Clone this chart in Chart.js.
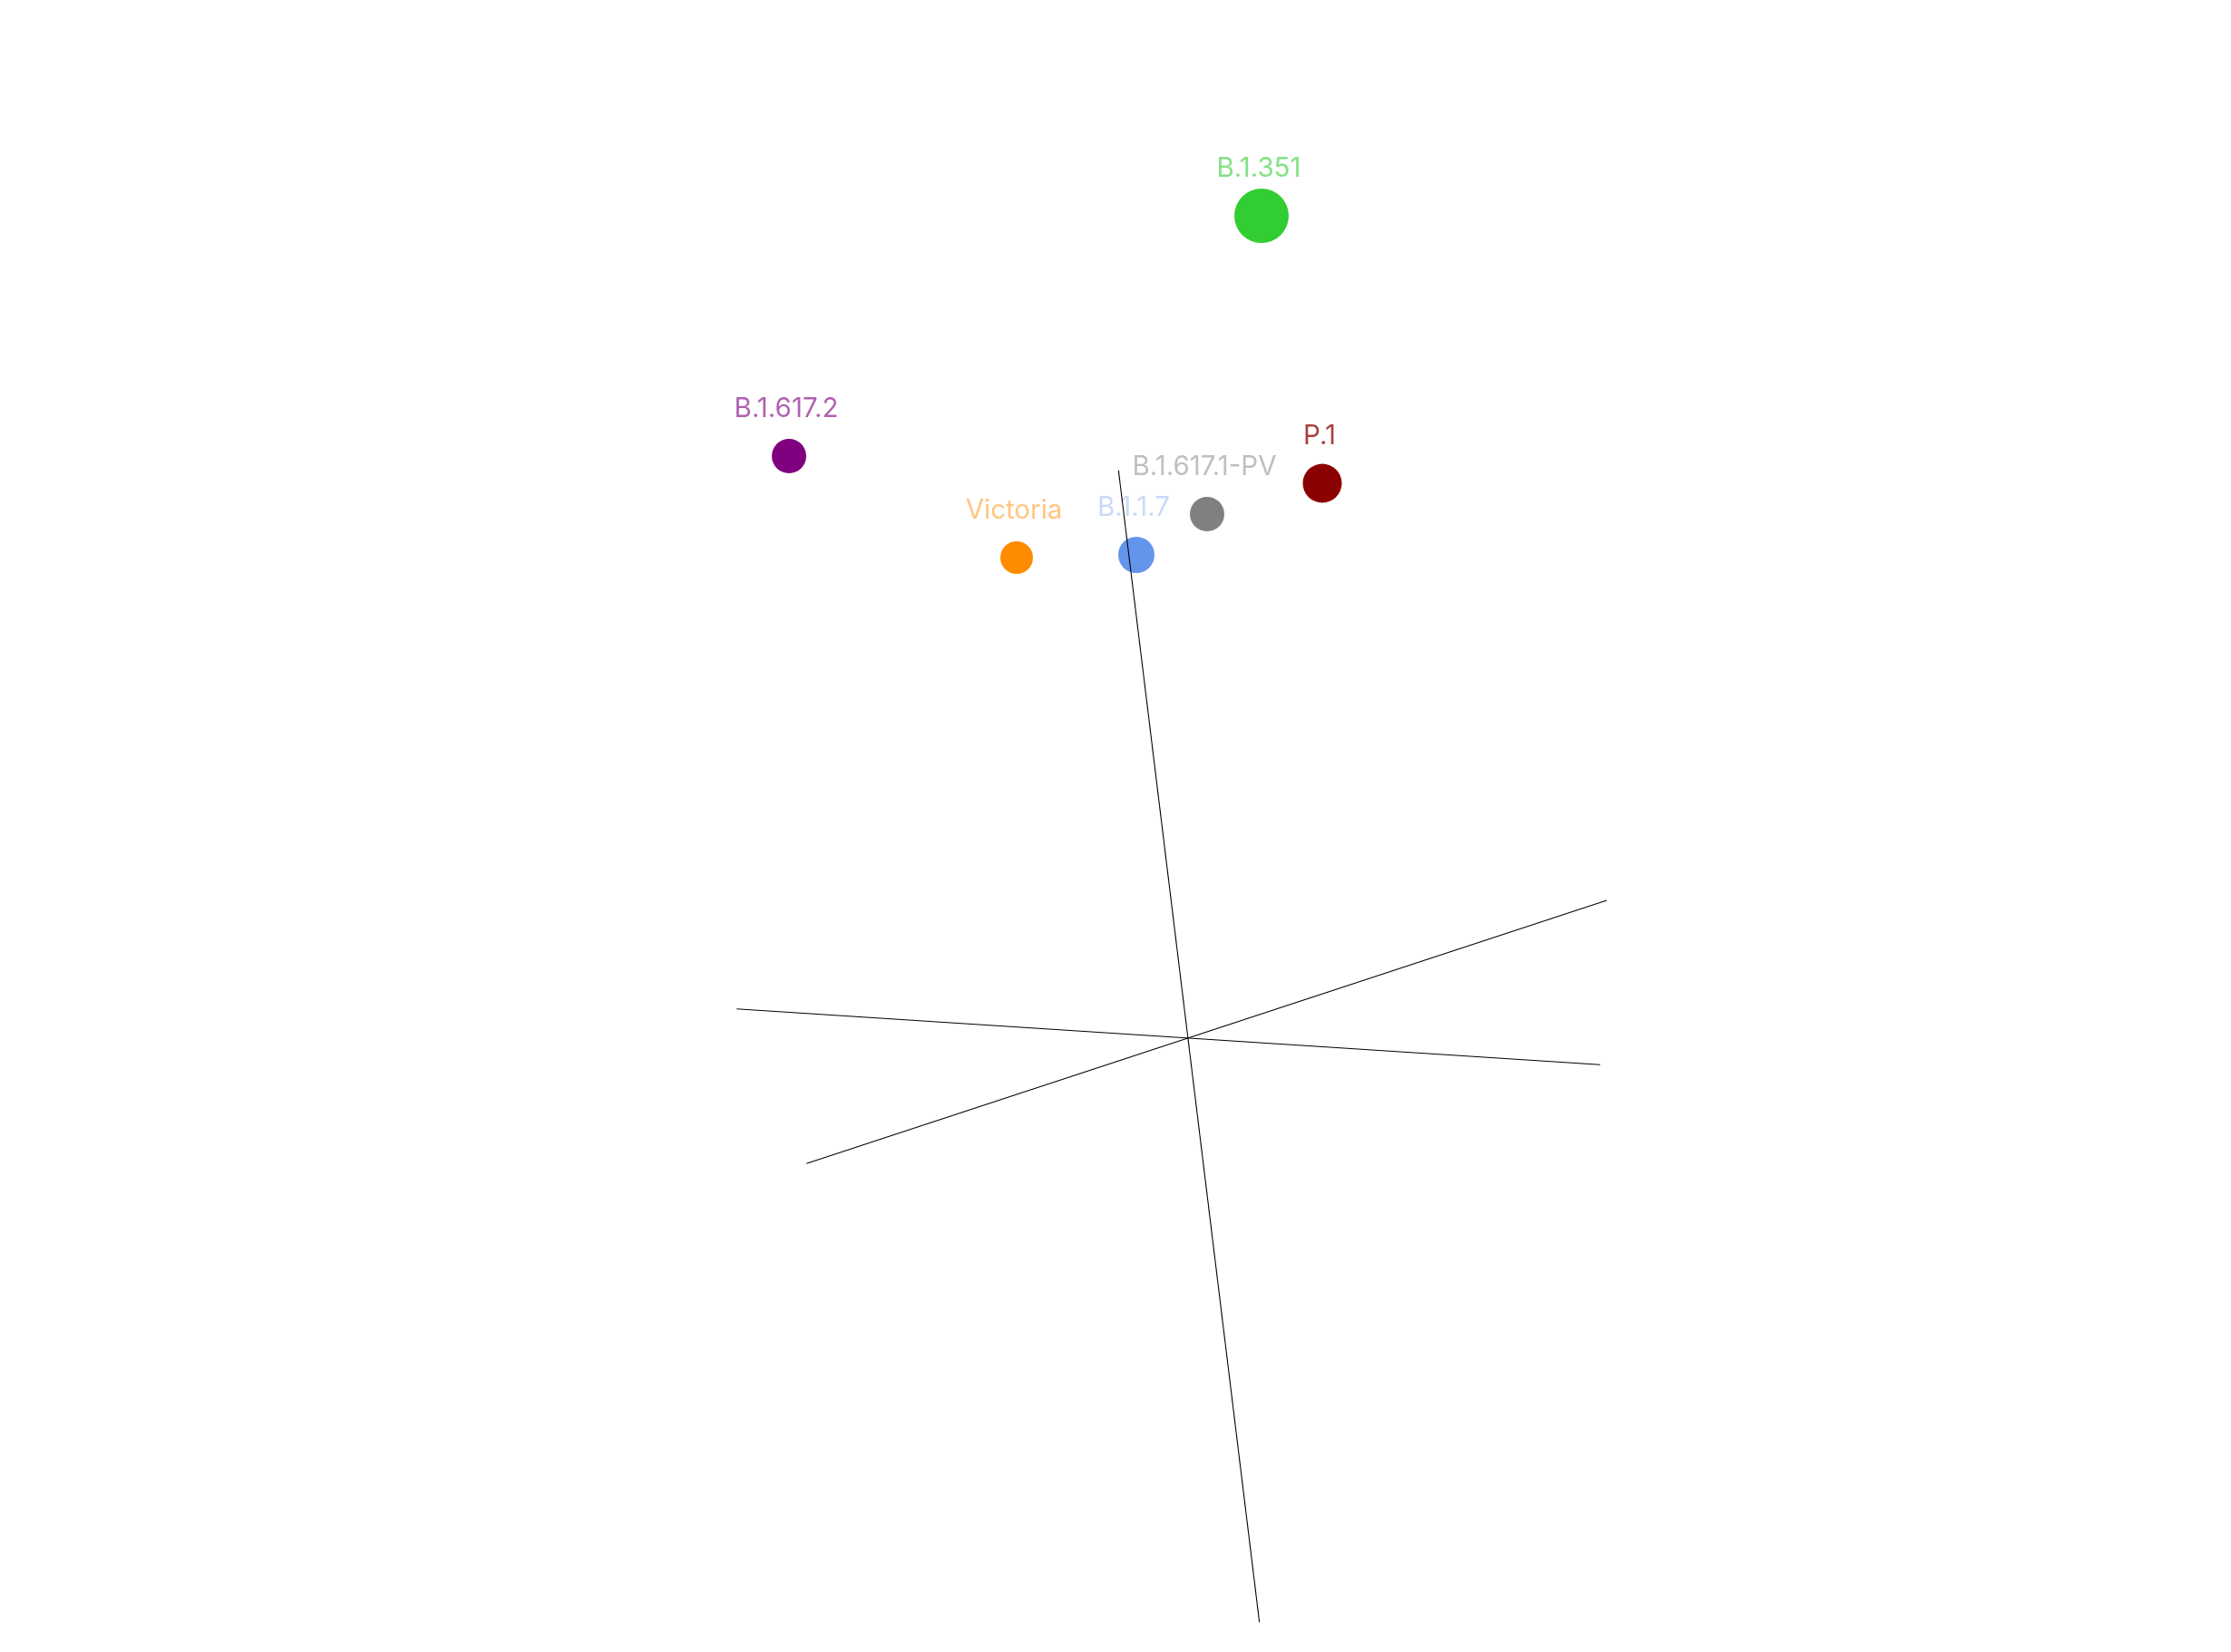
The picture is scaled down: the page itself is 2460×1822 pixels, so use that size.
<!DOCTYPE html>
<html>
<head>
<meta charset="utf-8">
<script src="https://cdn.jsdelivr.net/npm/chart.js@4.4.1/dist/chart.umd.min.js"></script>
<style>
  html, body { margin: 0; padding: 0; background: #ffffff; }
  #wrap { width: 2460px; height: 1822px; position: relative; }
</style>
</head>
<body>
<div id="wrap"><canvas id="c" width="2460" height="1822"></canvas></div>
<script>
// Variants (projected antigenic-map positions, in map units)
const variants = ["B.1.351", "B.1.617.2", "Victoria", "B.1.1.7", "B.1.617.1-PV", "P.1"];
const xs = [0.81, -4.40, -1.89, -0.57, 0.21, 1.48];
const ys = [9.06, 6.41, 5.29, 5.32, 5.77, 6.11];
const sizes = [30, 19, 18, 20, 19, 21.5];
const markerColors = ["#32cd32", "#800080", "#ff8c00", "#6495ed", "#808080", "#8b0000"];
const labelColors = ["rgba(50,205,50,0.6)", "rgba(128,0,128,0.62)", "rgba(255,140,0,0.5)",
                     "rgba(100,149,237,0.35)", "rgba(128,128,128,0.5)", "rgba(139,0,0,0.75)"];

// Projected 3D axis lines (start, end)
const axisNames = ["axis1", "axis2", "axis3"];
const axisX = [[-0.767, 0.787], [-4.977, 4.543], [-4.207, 4.617]];
const axisY = [[6.253, -6.453], [0.313, -0.303], [-1.393, 1.510]];

const axisDatasets = axisNames.map((n, i) => ({
  label: n,
  type: 'line',
  data: axisX[i].map((x, k) => ({ x: x, y: axisY[i][k] })),
  borderColor: '#000000',
  borderWidth: 1.1,
  pointRadius: 0,
  fill: false,
  showLine: true,
  order: 0
}));

const pointDatasets = variants.map((v, i) => ({
  label: v,
  type: 'scatter',
  data: [{ x: xs[i], y: ys[i] }],
  backgroundColor: markerColors[i],
  borderColor: markerColors[i],
  borderWidth: 0,
  pointRadius: sizes[i],
  pointHoverRadius: sizes[i],
  order: 1
}));

const labelPlugin = {
  id: 'variantLabels',
  beforeDatasetsDraw(chart) {
    const ctx = chart.ctx;
    ctx.save();
    ctx.font = '29.5px Inter, "Liberation Sans", sans-serif';
    ctx.textAlign = 'center';
    ctx.textBaseline = 'alphabetic';
    chart.data.datasets.forEach((ds, di) => {
      const idx = variants.indexOf(ds.label);
      if (idx < 0) return;
      const el = chart.getDatasetMeta(di).data[0];
      ctx.fillStyle = labelColors[idx];
      ctx.fillText(ds.label, el.x - 3, el.y - 43);
    });
    ctx.restore();
  }
};

new Chart(document.getElementById('c'), {
  type: 'scatter',
  data: { datasets: [...axisDatasets, ...pointDatasets] },
  options: {
    responsive: false,
    devicePixelRatio: 1,
    animation: false,
    layout: { padding: 0, autoPadding: false },
    plugins: { legend: { display: false }, tooltip: { enabled: false } },
    scales: {
      x: { type: 'linear', min: -13.10, max: 11.50, display: false },
      y: { type: 'linear', min: -6.78, max: 11.44, display: false }
    }
  },
  plugins: [labelPlugin]
});
</script>
</body>
</html>
